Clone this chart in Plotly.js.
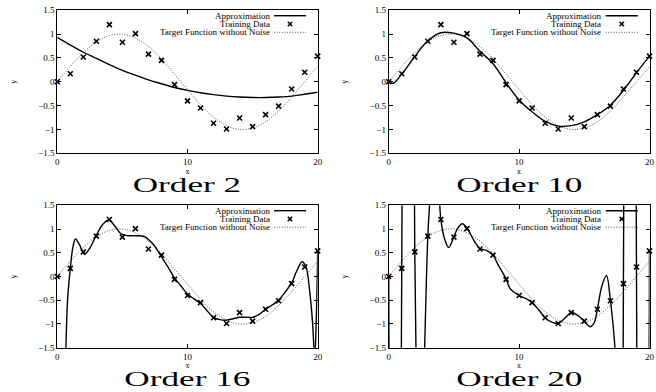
<!DOCTYPE html>
<html>
<head>
<meta charset="utf-8">
<script src="https://cdn.plot.ly/plotly-3.0.1.min.js"></script>
<style>html,body{margin:0;padding:0;background:#fff;}#chart{width:656px;height:392px;}</style>
</head>
<body>
<div id="chart"></div>
<script>
// ---- data ----
const xTrain = [0,1,2,3,4,5,6,7,8,9,10,11,12,13,14,15,16,17,18,19,20];
const yTrain = [0,0.17,0.52,0.85,1.2,0.83,1.01,0.58,0.45,-0.06,-0.4,-0.55,-0.87,-0.99,-0.76,-0.94,-0.69,-0.51,-0.15,0.2,0.54];

const xTarget = [0,1,2,3,4,5,6,7,8,9,10,11,12,13,14,15,16,17,18,19,20];
const yTarget = [0,0.32,0.61,0.84,0.97,1.0,0.92,0.74,0.48,0.16,-0.16,-0.48,-0.74,-0.92,-1.0,-0.97,-0.84,-0.61,-0.32,0,0.32];

const xOrder2 = [0,1,2,3,4,5,6,7,8,9,10,11,12,13,14,15,16,17,18,19,20];
const yOrder2 = [0.93,0.77,0.62,0.49,0.36,0.24,0.14,0.04,-0.04,-0.12,-0.18,-0.23,-0.27,-0.30,-0.32,-0.33,-0.33,-0.32,-0.30,-0.26,-0.22];

const xOrder10 = [0,0.35,1,2,3,4,5,6,7,8,9,10,11,12,13,14,15,16,17,18,19,20];
const yOrder10 = [0,-0.03,0.16,0.53,0.86,1.03,1.02,0.92,0.64,0.38,-0.02,-0.38,-0.63,-0.83,-0.93,-0.92,-0.84,-0.69,-0.49,-0.18,0.19,0.54];

const xOrder16 = [0.6,0.66,0.8,1.0,1.2,1.4,1.7,2.1,2.5,3.0,3.5,3.95,4.4,4.9,5.4,6.0,6.7,7.0,7.4,8.0,8.5,9.0,9.5,10.0,11.0,11.5,12.0,12.5,13.0,13.5,14.0,14.5,15.0,15.5,16.0,16.5,17.0,17.5,18.0,18.4,18.8,19.1,19.4,19.6,19.77,19.9,20.0];
const yOrder16 = [-2.3,-1.5,-0.45,0.17,0.62,0.79,0.67,0.47,0.6,0.87,1.1,1.19,1.07,0.9,0.86,0.86,0.84,0.78,0.67,0.42,0.2,-0.03,-0.2,-0.37,-0.57,-0.72,-0.86,-0.91,-0.92,-0.89,-0.86,-0.86,-0.86,-0.8,-0.69,-0.6,-0.5,-0.33,-0.13,0.12,0.31,0.2,-0.35,-0.95,-1.7,-0.8,0.54];

const xOrder20 = [0,0.03,null,0.95,1.0,1.05,null,1.955,2.0,2.13,null,2.7,2.85,3.0,3.12,3.22,null,3.82,3.9,4.0,4.3,4.6,5.0,5.3,5.65,6.0,6.3,6.6,7.0,7.5,8.0,8.4,9.0,9.3,10.0,10.5,11.0,11.5,12.0,12.5,13.0,13.5,14.0,14.5,15.0,15.45,15.75,16.0,16.35,16.7,17.0,17.2,17.35,17.45,null,17.96,18.0,18.04,null,18.96,19.0,19.04,null,19.96,20.0];
const yOrder20 = [0,-2.5,null,-2.8,0.17,3.2,null,2.6,0.52,-2.4,null,-2.1,-0.5,0.85,1.45,1.9,null,2.1,1.6,1.2,0.78,0.61,0.84,1.02,1.11,1.02,0.88,0.73,0.59,0.55,0.45,0.24,-0.05,-0.25,-0.4,-0.46,-0.55,-0.7,-0.87,-0.96,-0.99,-0.88,-0.76,-0.82,-0.94,-1.06,-0.98,-0.69,-0.2,0.02,-0.5,-1.0,-1.5,-2.0,null,-3,-0.15,2.7,null,3,0.2,-2.6,null,-3,0.54];

const panelTitles = ['Order 2','Order 10','Order 16','Order 20'];
const approxX = [xOrder2, xOrder10, xOrder16, xOrder20];
const approxY = [yOrder2, yOrder10, yOrder16, yOrder20];
const legendLabels = ['Approximation','Training Data','Target Function without Noise'];
const xTicks = [0,10,20];
const yTicks = [-1.5,-1,-0.5,0,0.5,1,1.5];

// ---- layout geometry ----
const W = 656, H = 392;
const colDom = [[57.3/W, 317.7/W],[388.7/W, 649.5/W]];
const rowDom = [[1-153.3/H, 1-10.3/H],[1-347.7/H, 1-205.3/H]];
const serif = 'Liberation Serif, Times New Roman, serif';
const DOT = '1px,1.6px';

const data = [];
const layout = {
  width: W, height: H,
  margin: {l:0,r:0,t:0,b:0},
  paper_bgcolor: '#fff', plot_bgcolor: '#fff',
  showlegend: false,
  font: {family: serif, color: '#000', size: 9},
  annotations: [], shapes: []
};

for (let i = 0; i < 4; i++) {
  const r = Math.floor(i/2), c = i % 2;
  const sfx = i === 0 ? '' : String(i+1);
  const xa = 'x' + sfx, ya = 'y' + sfx;
  const axBase = {
    showline: true, linecolor: '#000', linewidth: 1, mirror: 'ticks',
    ticks: 'inside', ticklen: 4, tickcolor: '#000', tickwidth: 1,
    showgrid: false, zeroline: false,
    tickfont: {family: serif, size: 9, color: '#000'}
  };
  layout['xaxis' + sfx] = Object.assign({}, axBase, {
    domain: colDom[c], anchor: ya, range: [0,20],
    tickmode: 'array', tickvals: xTicks,
    title: {text: 'x', font: {family: serif, size: 8}, standoff: 0}
  });
  layout['yaxis' + sfx] = Object.assign({}, axBase, {
    domain: rowDom[r], anchor: xa, range: [-1.5,1.5],
    tickmode: 'array', tickvals: yTicks,
    title: {text: 'y', font: {family: serif, size: 8}, standoff: 20}
  });

  // target function (dotted)
  data.push({x: xTarget, y: yTarget, xaxis: xa, yaxis: ya, mode: 'lines',
    line: {color: '#555', width: 1, dash: DOT, shape: 'spline'}, hoverinfo: 'skip'});
  // approximation (solid)
  data.push({x: approxX[i], y: approxY[i], xaxis: xa, yaxis: ya, mode: 'lines',
    connectgaps: false,
    line: {color: '#000', width: 1.4, shape: 'spline', smoothing: 1}, hoverinfo: 'skip'});
  // training data
  data.push({x: xTrain, y: yTrain, xaxis: xa, yaxis: ya, mode: 'markers', cliponaxis: false,
    marker: {symbol: 'x-thin-open', size: 5, color: '#000', line: {color: '#000', width: 1.6}}, hoverinfo: 'skip'});

  // panel caption
  layout.annotations.push({
    xref: 'paper', yref: 'paper',
    x: (colDom[c][0]+colDom[c][1])/2, y: r === 0 ? 1-184.5/H : 1-378.5/H,
    xanchor: 'center', yanchor: 'middle', showarrow: false,
    text: panelTitles[i], font: {family: serif, size: 22, color: '#000'}
  });

  // gnuplot-style key (text right aligned, sample at right)
  const xd = xa + ' domain', yd = ya + ' domain';
  const rowsY = [1-5.4/143, 1-13.7/143, 1-22/143];
  const txtX = 1 - 46/260.4, l0 = 1 - 43.7/260.4, l1 = 1 - 11.7/260.4;
  legendLabels.forEach((lab, k) => {
    layout.annotations.push({xref: xd, yref: yd, x: txtX, y: rowsY[k], xanchor: 'right', yanchor: 'middle',
      showarrow: false, text: lab, font: {family: serif, size: 9, color: '#000'}});
  });
  layout.shapes.push({type: 'line', xref: xd, yref: yd, x0: l0, x1: l1, y0: rowsY[0], y1: rowsY[0],
    line: {color: '#000', width: 1.4}});
  layout.shapes.push({type: 'line', xref: xd, yref: yd, x0: l0, x1: l1, y0: rowsY[2], y1: rowsY[2],
    line: {color: '#555', width: 1, dash: DOT}});
  const mc = (l0+l1)/2, dx = 2.2/260.4, dy = 2.2/143;
  layout.shapes.push({type: 'line', xref: xd, yref: yd, x0: mc-dx, x1: mc+dx, y0: rowsY[1]-dy, y1: rowsY[1]+dy,
    line: {color: '#000', width: 1.5}});
  layout.shapes.push({type: 'line', xref: xd, yref: yd, x0: mc-dx, x1: mc+dx, y0: rowsY[1]+dy, y1: rowsY[1]-dy,
    line: {color: '#000', width: 1.5}});
}

Plotly.newPlot('chart', data, layout, {staticPlot: true, displayModeBar: false}).then(() => {
  // the reference captions are horizontally stretched; widen them
  document.querySelectorAll('#chart text.annotation-text').forEach(t => {
    if (/^Order/.test(t.textContent)) {
      const w = t.getComputedTextLength();
      t.setAttribute('textLength', (w * 1.6).toFixed(1));
      t.setAttribute('lengthAdjust', 'spacingAndGlyphs');
    }
  });
});
</script>
</body>
</html>
